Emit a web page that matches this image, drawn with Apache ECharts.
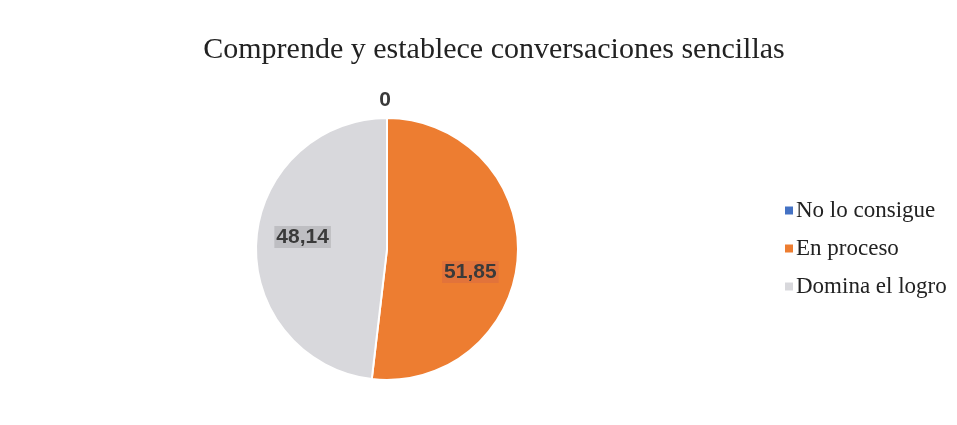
<!DOCTYPE html>
<html>
<head>
<meta charset="utf-8">
<script src="https://cdn.jsdelivr.net/npm/echarts@6/dist/echarts.min.js"></script>
<style>html,body{margin:0;padding:0;background:#fff;}#c{width:957px;height:425px;}</style>
</head>
<body>
<div id="c"></div>
<script>
const categories = ['No lo consigue', 'En proceso', 'Domina el logro'];
const values = [0, 51.85, 48.14];
const labelTexts = ['0', '51,85', '48,14'];
const colors = ['#4472C4', '#ED7D31', '#D8D8DC'];
const labelBgs = ['transparent', '#E2733A', '#BEBEC2'];

const chart = echarts.init(document.getElementById('c'));
const data = categories.map((name, i) => {
  const item = { name: name, value: values[i], itemStyle: { color: colors[i] } };
  if (values[i] === 0) {
    item.label = { position: 'outside', backgroundColor: 'transparent' };
    item.labelLine = { show: false, length: 4, length2: 0 };
  } else {
    item.label = { position: 'inside', backgroundColor: labelBgs[i] };
  }
  return item;
});

chart.setOption({
  animation: false,
  backgroundColor: '#ffffff',
  title: {
    text: 'Comprende y establece conversaciones sencillas',
    left: 489, top: 30, textAlign: 'center',
    textStyle: { fontFamily: 'Liberation Serif', fontSize: 30, fontWeight: 'normal', color: '#222' }
  },
  legend: {
    orient: 'vertical', left: 778, top: 194, itemGap: 15,
    itemWidth: 10, itemHeight: 10, icon: 'rect',
    data: categories,
    textStyle: { fontFamily: 'Liberation Serif', fontSize: 23, color: '#222', padding: [0, 0, 0, -3] }
  },
  series: [{
    type: 'pie',
    center: [387, 249],
    radius: 131,
    startAngle: 90,
    clockwise: true,
    avoidLabelOverlap: false,
    itemStyle: { borderColor: '#ffffff', borderWidth: 2 },
    label: {
      formatter: p => labelTexts[p.dataIndex],
      fontFamily: 'Liberation Sans', fontSize: 21, fontWeight: 'bold', color: '#3a3a3a',
      padding: [1, 2, 0, 2]
    },
    labelLayout: function (params) {
      if (params.dataIndex === 0) return { dx: 11, dy: -14 };
      if (params.dataIndex === 1) return { dx: 15, dy: 19 };
      if (params.dataIndex === 2) return { dx: -16, dy: -8 };
      return {};
    },
    data: data
  }]
});
</script>
</body>
</html>
